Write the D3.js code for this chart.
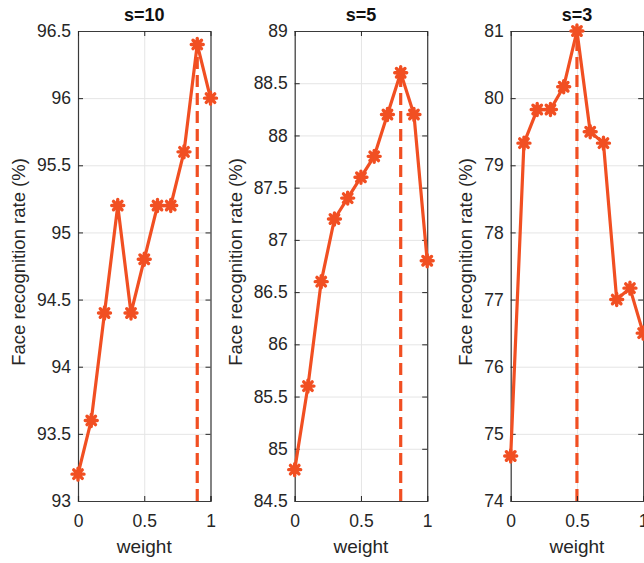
<!DOCTYPE html>
<html>
<head>
<meta charset="utf-8">
<script src="https://cdn.jsdelivr.net/npm/d3@7"></script>
<style>
  body { margin: 0; background: #fff; }
  svg { display: block; }
  text { font-family: "Liberation Sans", Helvetica, Arial, sans-serif; }
</style>
</head>
<body>
<div id="chart"></div>
<script>
// data
const weights = [0, 0.1, 0.2, 0.3, 0.4, 0.5, 0.6, 0.7, 0.8, 0.9, 1];
const rateS10 = [93.2, 93.6, 94.4, 95.2, 94.4, 94.8, 95.2, 95.2, 95.6, 96.4, 96.0];
const rateS5 = [84.8, 85.6, 86.6, 87.2, 87.4, 87.6, 87.8, 88.2, 88.6, 88.2, 86.8];
const rateS3 = [74.67, 79.33, 79.83, 79.83, 80.17, 81.0, 79.5, 79.33, 77.0, 77.17, 76.5];
const titles = ['s=10', 's=5', 's=3'];
const bestWeight = [0.9, 0.8, 0.5];
const yTicksS10 = [93, 93.5, 94, 94.5, 95, 95.5, 96, 96.5];
const yTicksS5 = [84.5, 85, 85.5, 86, 86.5, 87, 87.5, 88, 88.5, 89];
const yTicksS3 = [74, 75, 76, 77, 78, 79, 80, 81];
const xTicks = [0, 0.5, 1];

const panels = [
  {title: titles[0], rates: rateS10, best: bestWeight[0], ticks: yTicksS10},
  {title: titles[1], rates: rateS5, best: bestWeight[1], ticks: yTicksS5},
  {title: titles[2], rates: rateS3, best: bestWeight[2], ticks: yTicksS3}
];

const width = 644;
const height = 563;
const panelLeft = [78, 294.7, 510.7];
const panelWidth = 132.5;
const plotTop = 31;
const plotBottom = 501;
const lineColour = '#f14f22';
const axisColour = '#262626';
const fmt = d3.format('~g');

const svg = d3.select('#chart')
              .append('svg')
                .attr('width', width)
                .attr('height', height);

// asterisk marker: + and x on top of each other, drawn thick like matlab does
function star(g, r) {
  const d = r * Math.SQRT1_2;
  g.append('circle')
     .attr('r', 3.8)
     .attr('fill', lineColour);
  g.append('path')
     .attr('d', `M${-r},0L${r},0M0,${-r}L0,${r}M${-d},${-d}L${d},${d}M${-d},${d}L${d},${-d}`)
     .attr('stroke', lineColour)
     .attr('stroke-width', 3.4)
     .attr('stroke-linecap', 'round');
}

panels.forEach(function(p, i) {
  const x0 = panelLeft[i];
  const h = plotBottom - plotTop;
  const yDom = d3.extent(p.ticks);

  const xScale = d3.scaleLinear().domain([0, 1]).range([0, panelWidth]);
  const yScale = d3.scaleLinear().domain(yDom).range([h, 0]);

  const canvas = svg.append('g')
                    .attr('transform', `translate(${x0}, ${plotTop})`);

  // grid
  canvas.append('g')
          .attr('class', 'grid')
          .call(d3.axisLeft(yScale).tickValues(p.ticks).tickSize(-panelWidth).tickFormat(''));
  canvas.append('g')
          .attr('class', 'grid')
          .attr('transform', `translate(0, ${h})`)
          .call(d3.axisBottom(xScale).tickValues(xTicks).tickSize(-h).tickFormat(''));
  canvas.selectAll('.grid .domain').remove();
  canvas.selectAll('.grid line').attr('stroke', '#e5e5e5').attr('stroke-width', 1);

  // dashed marker of best weight
  canvas.append('line')
          .attr('x1', xScale(p.best))
          .attr('x2', xScale(p.best))
          .attr('y1', yScale(yDom[0]))
          .attr('y2', yScale(d3.max(p.rates)))
          .attr('stroke', lineColour)
          .attr('stroke-width', 3.2)
          .attr('stroke-dasharray', '12,6');

  // axes (box with inward ticks)
  const axes = canvas.append('g').attr('class', 'axes');
  const yAxis = axes.append('g')
          .call(d3.axisLeft(yScale).tickValues(p.ticks).tickFormat(fmt).tickSize(-5).tickPadding(7));
  axes.append('g')
        .attr('transform', `translate(${panelWidth}, 0)`)
        .call(d3.axisRight(yScale).tickValues(p.ticks).tickFormat('').tickSize(-5).tickSizeOuter(0));
  axes.append('g')
        .attr('transform', `translate(0, ${h})`)
        .call(d3.axisBottom(xScale).tickValues(xTicks).tickFormat(fmt).tickSize(-5).tickPadding(14));
  axes.append('g')
        .call(d3.axisTop(xScale).tickValues(xTicks).tickFormat('').tickSize(-5).tickSizeOuter(0));
  axes.selectAll('.tick line').attr('stroke', axisColour);
  axes.selectAll('.domain').attr('stroke', '#3a3a3a').attr('stroke-width', 1.2);
  axes.selectAll('.tick text')
        .attr('font-size', 17.5)
        .attr('fill', axisColour)
        .attr('font-family', '"Liberation Sans", Helvetica, Arial, sans-serif');

  // series line
  const line = d3.line()
                 .x((d, k) => xScale(weights[k]))
                 .y(d => yScale(d));
  canvas.append('path')
          .datum(p.rates)
          .attr('d', line)
          .attr('fill', 'none')
          .attr('stroke', lineColour)
          .attr('stroke-width', 3.2)
          .attr('stroke-linejoin', 'round');

  canvas.selectAll('.marker')
          .data(p.rates)
          .enter()
            .append('g')
              .attr('class', 'marker')
              .attr('transform', (d, k) => `translate(${xScale(weights[k])}, ${yScale(d)})`)
              .each(function() { star(d3.select(this), 6); });

  // title
  canvas.append('text')
          .attr('x', panelWidth / 2)
          .attr('y', -10)
          .attr('text-anchor', 'middle')
          .attr('font-weight', 'bold')
          .attr('font-size', 18)
          .attr('fill', '#111')
          .text(p.title);

  // x label
  canvas.append('text')
          .attr('x', panelWidth / 2)
          .attr('y', h + 52)
          .attr('text-anchor', 'middle')
          .attr('font-size', 19)
          .attr('fill', axisColour)
          .text('weight');

  // y label, placed left of the widest tick label
  let maxW = 0;
  yAxis.selectAll('text').each(function() { maxW = Math.max(maxW, this.getBBox().width); });
  canvas.append('text')
          .attr('transform', `translate(${-7 - maxW - 12}, ${h / 2 - 4}) rotate(-90)`)
          .attr('text-anchor', 'middle')
          .attr('font-size', 18.5)
          .attr('fill', axisColour)
          .text('Face recognition rate (%)');
});
</script>
</body>
</html>
